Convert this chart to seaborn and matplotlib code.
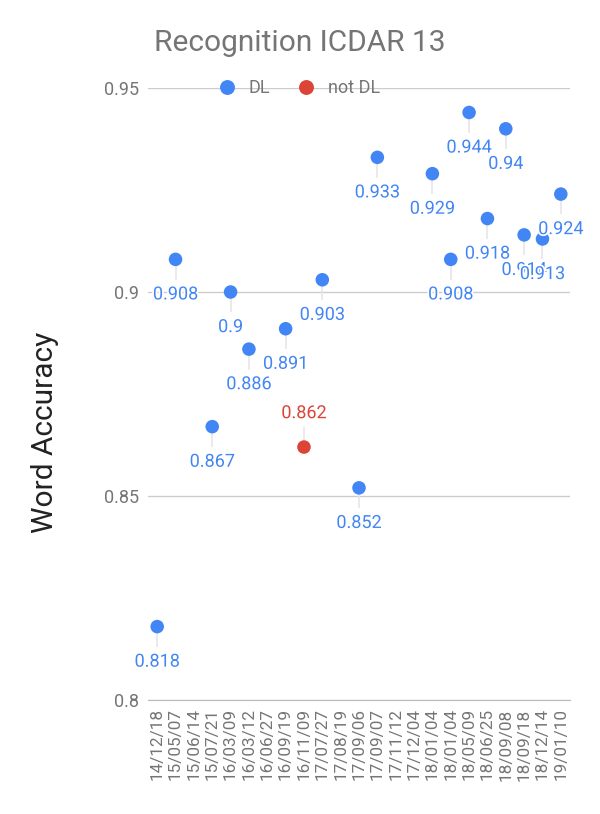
import numpy as np
import pandas as pd
import matplotlib
matplotlib.use('Agg')
import matplotlib.pyplot as plt
import matplotlib.patheffects as pe
import seaborn as sns

# data
dates = ['14/12/18', '15/05/07', '15/06/14', '15/07/21', '16/03/09', '16/03/12',
         '16/06/27', '16/09/19', '16/11/09', '17/07/27', '17/08/19', '17/09/06',
         '17/09/07', '17/11/12', '17/12/04', '18/01/04', '18/01/04', '18/05/09',
         '18/06/25', '18/09/08', '18/09/18', '18/12/14', '19/01/10']
accuracy = [0.818, 0.908, np.nan, 0.867, 0.9, 0.886,
            np.nan, 0.891, 0.862, 0.903, np.nan, 0.852,
            0.933, np.nan, np.nan, 0.929, 0.908, 0.944,
            0.918, 0.94, 0.914, 0.913, 0.924]
method = ['DL', 'DL', 'DL', 'DL', 'DL', 'DL',
          'DL', 'DL', 'not DL', 'DL', 'DL', 'DL',
          'DL', 'DL', 'DL', 'DL', 'DL', 'DL',
          'DL', 'DL', 'DL', 'DL', 'DL']
labels = ['0.818', '0.908', '', '0.867', '0.9', '0.886',
          '', '0.891', '0.862', '0.903', '', '0.852',
          '0.933', '', '', '0.929', '0.908', '0.944',
          '0.918', '0.94', '0.914', '0.913', '0.924']

colors = {'DL': '#4285F4', 'not DL': '#DB4437'}

sns.set_style('white')
plt.rcParams['font.family'] = ['Roboto', 'DejaVu Sans']

df = pd.DataFrame({'pos': range(len(dates)), 'acc': accuracy, 'kind': method, 'label': labels})
df = df.dropna()

fig = plt.figure(figsize=(6, 8.14), dpi=100)
ax = fig.add_axes([0.2467, 0.140, 0.7033, 0.7519])

# leader lines + value labels
halo = [pe.withStroke(linewidth=2.5, foreground='white')]
for _, r in df.iterrows():
    if r['kind'] == 'not DL':
        ax.vlines(r['pos'], r['acc'], r['acc'] + 0.005, color='#e6e6e6', lw=1.2, zorder=1)
        ax.text(r['pos'], r['acc'] + 0.0083, r['label'], ha='center', va='center',
                color=colors[r['kind']], fontsize=13, zorder=4, path_effects=halo)
    else:
        ax.vlines(r['pos'], r['acc'] - 0.005, r['acc'], color='#e6e6e6', lw=1.2, zorder=1)
        ax.text(r['pos'], r['acc'] - 0.0086, r['label'], ha='center', va='center',
                color=colors[r['kind']], fontsize=13, zorder=4, path_effects=halo)

sns.scatterplot(data=df, x='pos', y='acc', hue='kind', palette=colors,
                hue_order=['DL', 'not DL'], s=95, edgecolor='none', ax=ax, zorder=3)

ax.set_xlim(-0.5, len(dates) - 0.5)
ax.set_ylim(0.8, 0.95)
ax.set_yticks([0.8, 0.85, 0.9, 0.95])
ax.set_yticklabels(['0.8', '0.85', '0.9', '0.95'])
ax.set_xticks(range(len(dates)))
ax.set_xticklabels(dates, rotation=90)
ax.tick_params(axis='both', length=0, colors='#757575')
ax.tick_params(axis='y', pad=6.5, labelsize=13)
ax.tick_params(axis='x', pad=6, labelsize=12.3)
ax.grid(axis='y', color='#cccccc', lw=1)
ax.set_axisbelow(True)
for sp in ['top', 'right', 'left']:
    ax.spines[sp].set_visible(False)
ax.spines['bottom'].set_color('#bbbbbb')

ax.set_xlabel('')
ax.set_ylabel('Word Accuracy', fontsize=21.5, color='#222222')
ax.yaxis.set_label_coords(-0.21, 0.438)
fig.text(0.5, 0.947, 'Recognition ICDAR 13', ha='center', va='center',
         fontsize=21.5, color='#757575')

leg = ax.legend(loc='center', bbox_to_anchor=(0.355, 1.0), ncol=2, frameon=False,
                handlelength=1.2, handletextpad=0.6, columnspacing=1.4,
                fontsize=13, markerscale=1.1, borderpad=0)
for t in leg.get_texts():
    t.set_color('#757575')

fig.savefig('out.png', dpi=100)
